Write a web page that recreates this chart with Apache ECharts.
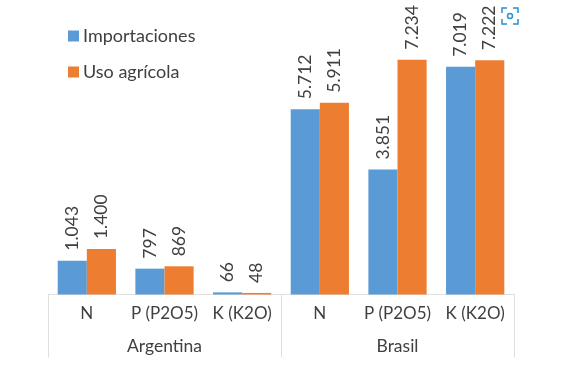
<!DOCTYPE html>
<html>
<head>
<meta charset="utf-8">
<style>
    html, body { margin: 0; padding: 0; background: #fff; }
    #chart { width: 574px; height: 371px; }
</style>
<script src="https://cdn.jsdelivr.net/npm/echarts@6/dist/echarts.min.js"></script>
</head>
<body>
<div id="chart"></div>
<script>
    var nutrients = ['N', 'P (P2O5)', 'K (K2O)', 'N', 'P (P2O5)', 'K (K2O)'];
    var countries = ['Argentina', 'Brasil'];
    var importaciones = [1043, 797, 66, 5712, 3851, 7019];
    var usoAgricola = [1400, 869, 48, 5911, 7234, 7222];

    var textColor = '#404040';
    var fontName = 'Lato';

    function barLabel() {
        return {
            show: true,
            position: 'top',
            rotate: 90,
            align: 'left',
            verticalAlign: 'middle',
            distance: 10,
            color: textColor,
            fontFamily: fontName,
            fontSize: 17.5,
            formatter: function (p) {
                return String(p.value).replace(/\B(?=(\d{3})+$)/g, '.');
            }
        };
    }

    // the little scan icon in the corner of the screenshot
    function corner(points) {
        return {
            type: 'polyline',
            shape: { points: points },
            style: { fill: 'none', stroke: '#2a8fd6', lineWidth: 1.5 }
        };
    }

    var mychart = echarts.init(document.getElementById('chart'));
    mychart.setOption({
        animation: false,
        backgroundColor: '#fff',
        grid: { left: 48, right: 60, top: 35, bottom: 76.5 },
        legend: {
            orient: 'vertical',
            left: 63,
            top: 22,
            icon: 'rect',
            itemWidth: 11,
            itemHeight: 11,
            itemGap: 18,
            textStyle: { color: textColor, fontFamily: fontName, fontSize: 18, padding: [0, 0, 0, -1] },
            data: ['Importaciones', 'Uso agrícola']
        },
        xAxis: [{
            type: 'category',
            data: nutrients,
            axisLine: { lineStyle: { color: '#e0e0e0', width: 1 } },
            axisTick: { show: false },
            axisLabel: { color: textColor, fontFamily: fontName, fontSize: 17, margin: 11, interval: 0 }
        }, {
            type: 'category',
            position: 'bottom',
            data: countries,
            axisLine: { show: false },
            axisTick: { show: true, length: 63, lineStyle: { color: '#e0e0e0', width: 1 } },
            axisLabel: { color: textColor, fontFamily: fontName, fontSize: 17.5, margin: 43 }
        }],
        yAxis: { type: 'value', min: 0, max: 8000, show: false },
        graphic: [{
            type: 'group',
            x: 502,
            y: 8,
            children: [
                corner([[0, 5], [0, 0], [5, 0]]),
                corner([[11, 0], [16, 0], [16, 5]]),
                corner([[16, 11], [16, 16], [11, 16]]),
                corner([[5, 16], [0, 16], [0, 11]]),
                {
                    type: 'circle',
                    shape: { cx: 8, cy: 8, r: 2.5 },
                    style: { fill: 'none', stroke: '#2a8fd6', lineWidth: 1.5 }
                }
            ]
        }],
        series: [{
            name: 'Importaciones',
            type: 'bar',
            data: importaciones,
            barGap: 0,
            barCategoryGap: '25%',
            itemStyle: { color: '#5b9bd5' },
            label: barLabel()
        }, {
            name: 'Uso agrícola',
            type: 'bar',
            data: usoAgricola,
            itemStyle: { color: '#ed7d31' },
            label: barLabel()
        }]
    });
</script>
</body>
</html>
